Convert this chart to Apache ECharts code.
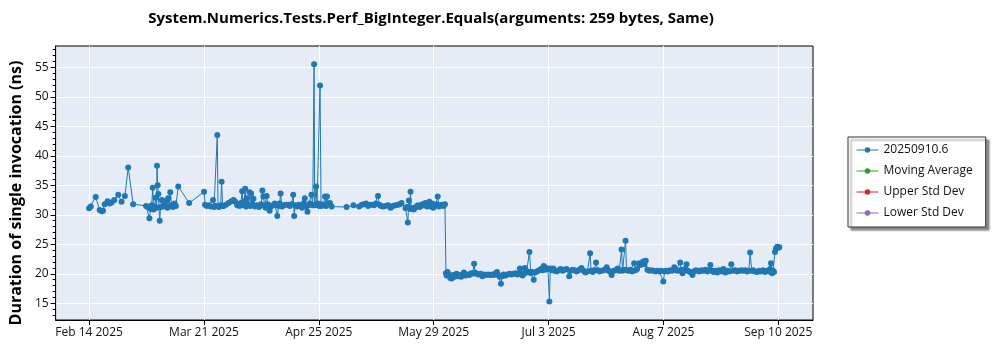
<!DOCTYPE html>
<html>
<head>
<meta charset="utf-8">
<title>Perf_BigInteger.Equals</title>
<script src="https://cdn.jsdelivr.net/npm/echarts@6/dist/echarts.min.js"></script>
<style>
  html, body { margin: 0; padding: 0; background: #fff; }
  #chart { width: 1000px; height: 350px; }
</style>
</head>
<body>
<div id="chart"></div>
<script>
// Run results: [days since 2025-02-14, duration in ns]
const runsBeforeDrop = [
  [0.4,31.1],[0.9,31.4],[2.4,33.0],[3.6,30.8],[4.2,30.6],[4.6,30.7],[5.1,31.8],[6.0,32.3],[6.6,31.9],[7.2,32.1],
  [8.0,32.5],[9.2,33.4],[10.2,32.2],[11.2,33.2],[12.2,38.0],[13.7,31.8],
  [17.6,31.5],[18.1,31.3],[18.6,29.4],[19.0,31.0],[19.3,31.6],[19.6,34.6],[19.9,30.9],[20.2,31.4],[20.5,32.9],[20.8,31.2],
  [20.9,38.3],[21.1,35.0],[21.3,33.5],[21.7,29.0],[22.0,31.3],[22.3,32.5],[22.7,31.4],[23.2,31.6],[23.7,32.4],[24.0,31.2],
  [24.3,32.8],[24.6,31.4],[24.9,33.8],[25.3,31.6],[25.7,31.3],[26.2,31.9],[26.6,31.5],[27.3,34.8],[30.6,32.0],[35.1,33.9],
  [35.4,31.7],[35.9,31.5],[36.6,31.6],[37.1,31.4],[37.8,32.5],[38.1,31.3],[38.6,31.5],[39.1,43.5],[39.3,31.4],[39.6,31.3],
  [40.1,31.6],[40.4,35.6],[40.7,31.5],[41.0,31.5],[41.7,31.7],[42.5,32.0],[43.3,32.3],[44.0,32.5],[44.5,32.2],[45.1,31.6],
  [45.8,31.5],[46.2,32.0],[46.6,34.0],[46.9,31.6],[47.2,32.3],[47.5,34.4],[47.8,31.4],[48.0,32.8],[48.4,31.7],[48.8,33.8],
  [49.1,31.5],[49.3,33.6],[49.6,31.8],[50.0,32.7],[50.5,31.4],[51.1,31.6],[51.7,31.3],[52.3,31.8],[52.7,34.1],[53.0,33.1],
  [53.4,31.5],[53.7,31.2],[54.0,33.2],[54.3,31.8],[54.5,31.1],[54.9,30.7],[55.3,31.4],[55.9,31.6],[56.4,31.9],[56.8,31.6],
  [57.2,29.8],[57.6,31.5],[57.9,31.9],[58.2,33.6],[58.6,31.4],[59.2,31.6],[59.8,31.7],[60.5,31.7],[61.0,31.5],[61.5,31.8],
  [62.0,33.4],[62.3,29.8],[62.6,31.6],[63.1,31.4],[63.7,31.7],[64.2,31.5],[64.7,31.2],[65.2,32.0],[65.5,32.8],[65.9,31.4],
  [66.3,30.5],[66.6,31.6],[67.0,31.9],[67.5,33.4],[67.9,31.6],[68.3,55.5],[68.5,31.6],[68.9,34.8],[69.2,31.7],[69.5,31.9],
  [69.8,31.5],[70.1,51.9],[70.4,31.5],[70.7,31.8],[71.1,31.6],[71.6,33.1],[71.9,31.5],[72.2,33.1],[72.6,31.8],[73.1,32.0],
  [73.6,31.4],[78.1,31.3],[80.2,31.6],[81.9,31.4],[82.7,31.7],[83.4,31.8],[84.0,31.9],[84.6,31.5],[85.5,31.7],[86.4,31.6],
  [87.0,31.9],[87.6,33.2],[88.0,31.7],[88.5,31.5],[89.1,31.4],[89.9,31.5],[90.6,31.6],[91.4,31.2],[92.1,31.5],[92.9,31.6],
  [93.6,31.7],[94.2,31.8],[94.7,32.0],[95.9,31.1],[96.3,31.3],[96.6,28.7],[96.9,32.4],[97.2,31.2],[97.4,33.9],[97.6,31.0],
  [98.1,31.1],[98.4,30.9],[98.8,31.2],[99.2,31.4],[99.7,31.6],[100.1,31.3],[100.6,31.5],[101.0,31.8],[101.5,31.6],[101.9,32.0],
  [102.4,31.4],[102.8,31.7],[103.1,32.2],[103.5,31.4],[103.9,31.9],[104.3,31.2],[104.6,31.5],[105.1,31.8],[105.6,33.1],[106.0,31.4],
  [106.4,31.6],[106.9,31.7],[107.3,31.5],[107.8,31.8]
];
const runsAfterDrop = [
  [108.1,20.1],[108.3,19.7],[108.6,20.3],[109.1,19.8],[109.4,19.3],[109.8,19.2],[110.3,19.8],[110.7,19.5],[111.3,20.0],[111.8,19.6],
  [112.2,19.8],[112.7,19.5],[113.5,20.2],[114.0,19.7],[114.5,19.9],[115.1,19.8],[115.7,20.1],[116.1,20.0],[116.6,21.7],[116.9,20.2],
  [117.3,20.0],[117.9,19.9],[118.5,20.0],[119.1,19.6],[119.6,19.9],[120.2,19.8],[120.8,19.9],[121.4,19.8],[122.0,19.9],[122.5,19.8],
  [123.1,20.1],[123.5,20.3],[123.9,19.8],[124.3,19.5],[124.7,18.3],[125.1,19.6],[125.5,19.9],[126.1,19.7],[126.7,19.9],[127.3,20.0],
  [127.9,19.9],[128.5,20.0],[129.1,20.1],[129.7,19.9],[130.4,20.9],[130.7,20.1],[131.2,19.7],[131.6,20.0],[131.9,21.0],[132.4,20.2],
  [132.8,20.4],[133.3,23.7],[133.7,20.1],[134.1,20.3],[134.6,19.0],[135.0,20.2],[135.6,20.4],[136.2,20.6],[136.8,20.8],[137.2,20.6],
  [137.6,21.3],[138.0,20.7],[138.4,21.0],[138.9,20.8],[139.3,15.3],[139.6,20.9],
  [140.0,20.6],[140.5,20.9],[140.9,20.5],[141.5,20.4],[142.1,20.6],[142.7,20.8],[143.3,20.5],[143.9,20.7],[144.5,20.8],[145.3,19.6],
  [145.7,20.5],[146.3,20.7],[146.9,20.6],[147.5,20.4],[148.1,20.6],[148.7,20.8],[149.0,21.0],[149.6,20.5],[150.2,20.2],[150.8,20.4],
  [151.6,23.5],[151.9,20.5],[152.4,20.3],[152.8,20.6],[153.4,21.9],[153.9,20.6],[154.5,20.4],[155.1,20.5],[155.7,20.6],[156.1,20.7],
  [156.6,21.1],[157.0,20.6],[157.5,20.4],[158.1,19.8],[158.7,20.5],[159.3,20.6],[159.9,20.9],[160.4,20.5],[160.8,20.6],[161.1,24.1],
  [161.4,20.5],[161.9,20.7],[162.3,25.6],[162.6,20.6],[163.2,20.5],[163.8,20.7],[164.3,20.4],[164.9,21.8],[165.3,20.6],[165.8,20.8],
  [166.4,21.8],[166.8,21.5],[167.3,21.7],[167.6,22.1],[168.0,21.6],[168.4,22.2],[168.9,20.7],[169.5,20.5],[170.1,20.6],[170.7,20.5],
  [171.3,20.4],[171.9,20.5],[172.5,20.4],[173.1,20.5],[173.7,18.7],[174.1,20.4],
  [174.5,20.5],[175.1,20.4],[175.7,20.6],[176.3,20.5],[177.0,21.1],[177.5,20.6],[178.1,20.5],[178.8,21.9],[179.1,20.7],[179.5,20.1],
  [179.9,20.5],[180.3,20.8],[180.7,21.6],[181.1,20.5],[181.7,20.3],[182.5,19.8],[182.9,20.4],[183.5,20.6],[184.1,20.5],[184.6,20.4],
  [185.2,20.6],[185.8,20.5],[186.4,20.7],[187.0,20.4],[187.5,20.6],[187.9,21.5],[188.4,20.5],[188.8,20.3],[189.4,20.5],[190.0,20.2],
  [190.6,20.6],[191.2,20.4],[191.8,20.8],[192.4,20.2],[193.0,20.5],[193.6,20.4],[194.2,21.6],[194.8,20.5],[195.4,20.6],[196.0,20.4],
  [196.6,20.5],[197.2,20.6],[197.8,20.5],[198.4,20.6],[199.0,20.4],[199.5,20.5],[199.9,23.6],[200.4,20.5],[200.8,20.6],[201.4,20.4],
  [202.0,20.3],[202.6,20.5],[203.2,20.4],[203.8,20.6],[204.4,20.3],[205.0,20.5],[205.6,20.4],[205.9,20.8],[206.2,21.8],[206.5,20.1],
  [206.8,20.5],[207.1,20.3],[207.4,23.7],[207.7,24.3],[208.1,24.6],[208.4,24.4],[208.7,24.5]
];

// Date ticks, every 34⅔ days
const xTickDays = [0.4, 35.07, 69.73, 104.4, 139.07, 173.73, 208.4];
const xTickLabels = ['Feb 14 2025', 'Mar 21 2025', 'Apr 25 2025', 'May 29 2025', 'Jul 3 2025', 'Aug 7 2025', 'Sep 10 2025'];
const yTickValues = [15, 20, 25, 30, 35, 40, 45, 50, 55];

const seriesNames = ['20250910.6', 'Moving Average', 'Upper Std Dev', 'Lower Std Dev'];
const seriesColors = ['#1f77b4', '#2ca02c', '#d62728', '#9467bd'];

const titleText = 'System.Numerics.Tests.Perf_BigInteger.Equals(arguments: 259 bytes, Same)';
const yAxisTitle = 'Duration of single invocation (ns)';

const X_MIN = -9.7, X_MAX = 218.87;
const Y_MIN = 12.17, Y_MAX = 58.6;

// one minor tick per ns, skipping the labelled ones
const yMinorTicks = [];
for (let v = Math.ceil(Y_MIN); v <= Math.floor(Y_MAX); v++) {
  if (v % 5 !== 0) yMinorTicks.push(v);
}

const FONT = '"Open Sans", "Noto Sans", sans-serif';

const chart = echarts.init(document.getElementById('chart'), null, { renderer: 'canvas' });

const allRuns = runsBeforeDrop.concat(runsAfterDrop);

const series = seriesNames.map((name, i) => ({
  name: name,
  type: 'line',
  data: i === 0 ? allRuns : [],
  symbol: 'circle',
  symbolSize: 6,
  showSymbol: true,
  showAllSymbol: true,
  color: seriesColors[i],
  lineStyle: { width: 1, color: seriesColors[i] },
  itemStyle: { color: seriesColors[i] },
  emphasis: { disabled: true },
  animation: false,
  z: 3
}));

chart.setOption({
  animation: false,
  textStyle: { fontFamily: FONT },
  grid: {
    left: 48, right: 187, top: 46, bottom: 30,
    show: true,
    backgroundColor: '#e5ecf6',
    borderColor: '#000',
    borderWidth: 1
  },
  graphic: [{
    type: 'text',
    x: 431, y: 19,
    z: 10,
    style: {
      text: titleText,
      font: 'bold 15px ' + FONT,
      fill: '#000',
      align: 'center', verticalAlign: 'middle',
      textAlign: 'center', textVerticalAlign: 'middle'
    }
  }],
  legend: {
    orient: 'vertical',
    left: 848, top: 137,
    data: seriesNames,
    itemWidth: 22, itemHeight: 7, itemGap: 9,
    padding: [7, 13, 8, 8],
    backgroundColor: '#fff',
    borderColor: '#333',
    borderWidth: 1,
    shadowColor: 'rgba(0,0,0,0.45)',
    shadowBlur: 2,
    shadowOffsetX: 3,
    shadowOffsetY: 3,
    lineStyle: { width: 1 },
    textStyle: { fontSize: 12, color: '#111', fontFamily: FONT },
    selectedMode: false
  },
  xAxis: {
    type: 'value',
    min: X_MIN, max: X_MAX,
    axisLine: { show: true, onZero: false, lineStyle: { color: '#000' } },
    axisTick: { show: true, customValues: xTickDays, length: 5, lineStyle: { color: '#000' } },
    axisLabel: {
      customValues: xTickDays,
      color: '#111', fontSize: 12, margin: 7, fontFamily: FONT,
      formatter: function (v) {
        let best = 0;
        for (let i = 1; i < xTickDays.length; i++) {
          if (Math.abs(xTickDays[i] - v) < Math.abs(xTickDays[best] - v)) best = i;
        }
        return xTickLabels[best];
      }
    },
    splitLine: { show: true, lineStyle: { color: '#fff', width: 1 } }
  },
  yAxis: [{
    type: 'value',
    min: Y_MIN, max: Y_MAX,
    name: yAxisTitle,
    nameLocation: 'middle',
    nameGap: 24,
    nameTextStyle: { fontSize: 16, fontWeight: 'bold', color: '#000', fontFamily: FONT, padding: [0, 20, 0, 0] },
    axisLine: { show: true, onZero: false, lineStyle: { color: '#000' } },
    axisTick: { show: true, customValues: yTickValues, length: 5, lineStyle: { color: '#000' } },
    axisLabel: { customValues: yTickValues, color: '#111', fontSize: 12, margin: 7, fontFamily: FONT },
    splitLine: { show: true, lineStyle: { color: '#fff', width: 1 } }
  }, {
    type: 'value',
    min: Y_MIN, max: Y_MAX,
    position: 'left',
    offset: 0,
    axisLine: { show: false, onZero: false },
    axisTick: { show: true, customValues: yMinorTicks, length: 3, lineStyle: { color: '#000' } },
    axisLabel: { show: false },
    splitLine: { show: false }
  }],
  series: series
});
</script>
</body>
</html>
